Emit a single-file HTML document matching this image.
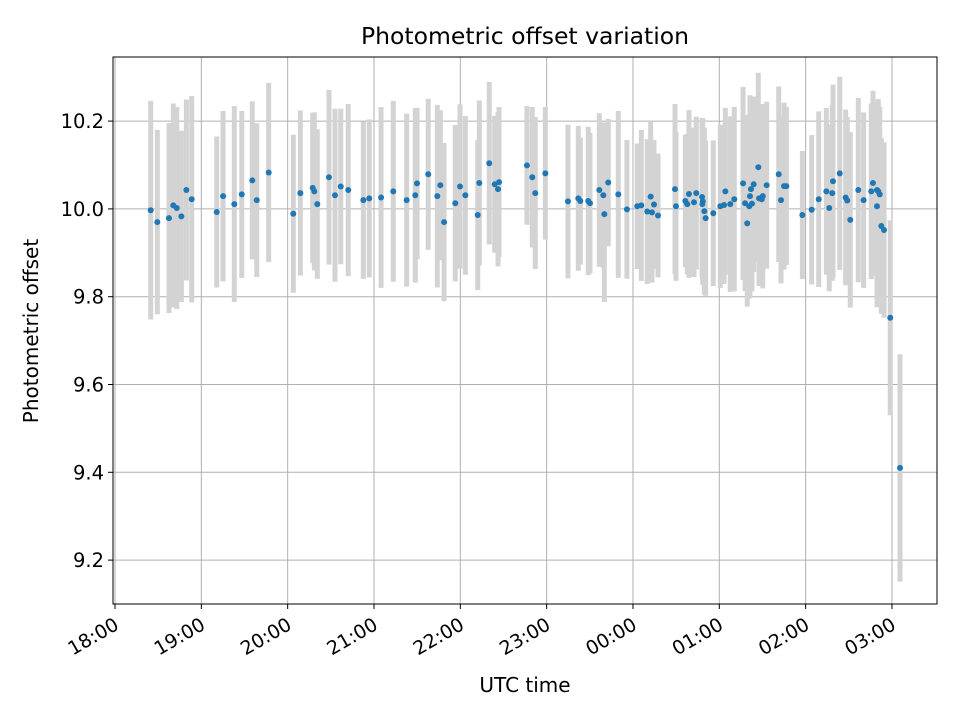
<!DOCTYPE html>
<html><head><meta charset="utf-8"><style>
body{margin:0;background:#fff;}
svg{display:block;font-family:"DejaVu Sans","Liberation Sans",sans-serif;}
</style></head><body>
<svg id="chart" width="960" height="720" viewBox="0 0 960 720" xmlns="http://www.w3.org/2000/svg">
<rect width="960" height="720" fill="#fff"/>
<text x="525" y="44" text-anchor="middle" font-size="23.5">Photometric offset variation</text>
<g id="grid"></g>
<g id="errs"></g>
<g id="pts"></g>
<rect x="113" y="57" width="824" height="547" fill="none" stroke="#000" stroke-width="1"/>
<g id="axes"></g>
<text x="525" y="692" text-anchor="middle" font-size="20">UTC time</text>
<text transform="translate(38,331) rotate(-90)" text-anchor="middle" font-size="20">Photometric offset</text>
</svg>
<script>
// minutes after 18:00 UTC
const times=[24.8,29.4,37.5,40.5,42.9,46.1,49.6,53.3,70.7,75.1,82.9,88.1,95.4,98.5,106.8,123.9,128.8,137.4,138.5,140.6,148.7,152.9,156.9,162.1,172.6,176.7,184.9,193.4,202.7,208.7,209.9,217.7,224,226.1,228.7,236.5,239.8,243.5,252.1,253.2,260.1,263.9,266.9,266.2,286.3,290,292.1,299.1,314.8,322,323.4,328.9,330.1,336.6,339.4,340.1,342.8,349.8,355.8,363,365.8,369.9,372.3,373.2,374.6,377.4,389.2,389.9,396.4,397.7,398.9,402.4,404,408,408.5,408.2,409.6,410.5,415.8,420.7,423.3,424.2,427.6,430.4,436.5,437.9,439.4,440.8,441.3,442.7,442,443.9,447.1,447.6,449.5,450.2,452.9,461.3,462.9,465,466.6,477.7,484.2,489.1,494.4,496.4,498.5,499,503.7,507.8,508.9,511,516.6,520.3,526.8,525.6,529.6,530.5,531.5,529.6,532.6,534.5,538.8,545.6];
const offsets=[9.997,9.970,9.979,10.008,10.002,9.983,10.043,10.022,9.993,10.029,10.011,10.033,10.065,10.020,10.083,9.989,10.036,10.048,10.040,10.011,10.072,10.031,10.051,10.043,10.020,10.024,10.026,10.040,10.020,10.031,10.058,10.079,10.029,10.054,9.970,10.013,10.051,10.031,9.986,10.059,10.104,10.056,10.061,10.045,10.099,10.072,10.036,10.081,10.017,10.024,10.018,10.018,10.013,10.043,10.031,9.988,10.060,10.033,9.999,10.006,10.008,9.994,10.028,9.992,10.010,9.985,10.045,10.006,10.018,10.011,10.034,10.015,10.036,10.027,10.017,10.011,9.995,9.979,9.990,10.006,10.009,10.040,10.011,10.022,10.058,10.013,9.967,10.006,10.029,10.012,10.045,10.056,10.095,10.024,10.022,10.029,10.054,10.079,10.020,10.052,10.052,9.986,9.998,10.022,10.040,10.002,10.036,10.063,10.081,10.026,10.019,9.975,10.043,10.020,10.059,10.040,10.043,10.040,10.033,10.006,9.961,9.952,9.752,9.410];
const errors=[0.249,0.21,0.216,0.232,0.23,0.195,0.206,0.235,0.172,0.194,0.223,0.19,0.18,0.175,0.204,0.18,0.188,0.171,0.18,0.17,0.199,0.197,0.177,0.196,0.179,0.18,0.206,0.206,0.197,0.199,0.172,0.172,0.208,0.171,0.18,0.178,0.187,0.181,0.171,0.188,0.185,0.156,0.171,0.176,0.135,0.16,0.173,0.151,0.175,0.165,0.145,0.169,0.16,0.175,0.166,0.2,0.145,0.19,0.158,0.143,0.172,0.165,0.17,0.16,0.147,0.141,0.194,0.17,0.151,0.16,0.191,0.17,0.174,0.18,0.19,0.17,0.19,0.177,0.166,0.186,0.18,0.19,0.2,0.21,0.22,0.2,0.19,0.21,0.23,0.2,0.19,0.2,0.215,0.2,0.19,0.21,0.19,0.2,0.19,0.19,0.18,0.146,0.17,0.2,0.19,0.19,0.2,0.22,0.22,0.2,0.19,0.2,0.21,0.2,0.21,0.2,0.2,0.21,0.2,0.23,0.2,0.2,0.222,0.259];
const xTickLabels=["18:00","19:00","20:00","21:00","22:00","23:00","00:00","01:00","02:00","03:00"];
const yTicks=[9.2,9.4,9.6,9.8,10.0,10.2];

const L=113,R=937,T=57,B=604;
const xMin=-1.4,xMax=571.3,yMin=9.1,yMax=10.346;
const xs=v=>L+(v-xMin)/(xMax-xMin)*(R-L);
const ys=v=>B-(v-yMin)/(yMax-yMin)*(B-T);
const NS="http://www.w3.org/2000/svg";
function mk(tag,attrs,parent){const e=document.createElementNS(NS,tag);for(const k in attrs)e.setAttribute(k,attrs[k]);parent.appendChild(e);return e;}
const grid=document.getElementById('grid'),axes=document.getElementById('axes'),errs=document.getElementById('errs'),pts=document.getElementById('pts');

xTickLabels.forEach((lab,i)=>{
  const x=xs(i*60);
  const g=mk('line',{x1:x,x2:x,y1:T,y2:B,stroke:'#b0b0b0','stroke-width':1},grid);
  
  
  const t=mk('line',{x1:x,x2:x,y1:B,y2:B+5,stroke:'#000'},axes);
  
  
  const tx=mk('text',{'text-anchor':'end','font-size':19,transform:`translate(${x-2},${B+12}) rotate(-30)`,dy:'0.75em'},axes);
  tx.textContent=lab;
  
  
});
yTicks.forEach(v=>{
  const y=ys(v);
  const g=mk('line',{x1:L,x2:R,y1:y,y2:y,stroke:'#b0b0b0','stroke-width':1},grid);
  
  
  const t=mk('line',{x1:L-5,x2:L,y1:y,y2:y,stroke:'#000'},axes);
  
  
  const tx=mk('text',{x:L-9,y:y+7,'text-anchor':'end','font-size':19.5},axes);
  tx.textContent=v.toFixed(1);
  
  
});
times.forEach((tm,i)=>{
  const x=xs(tm),v=offsets[i],e=errors[i];
  const l=mk('line',{x1:x,x2:x,y1:ys(v+e),y2:ys(v-e),stroke:'#d3d3d3','stroke-width':5},errs);
  
  
});
times.forEach((tm,i)=>{
  const c=mk('circle',{cx:xs(tm),cy:ys(offsets[i]),r:3,fill:'#1f77b4'},pts);
  
  
});
</script>
</body></html>
